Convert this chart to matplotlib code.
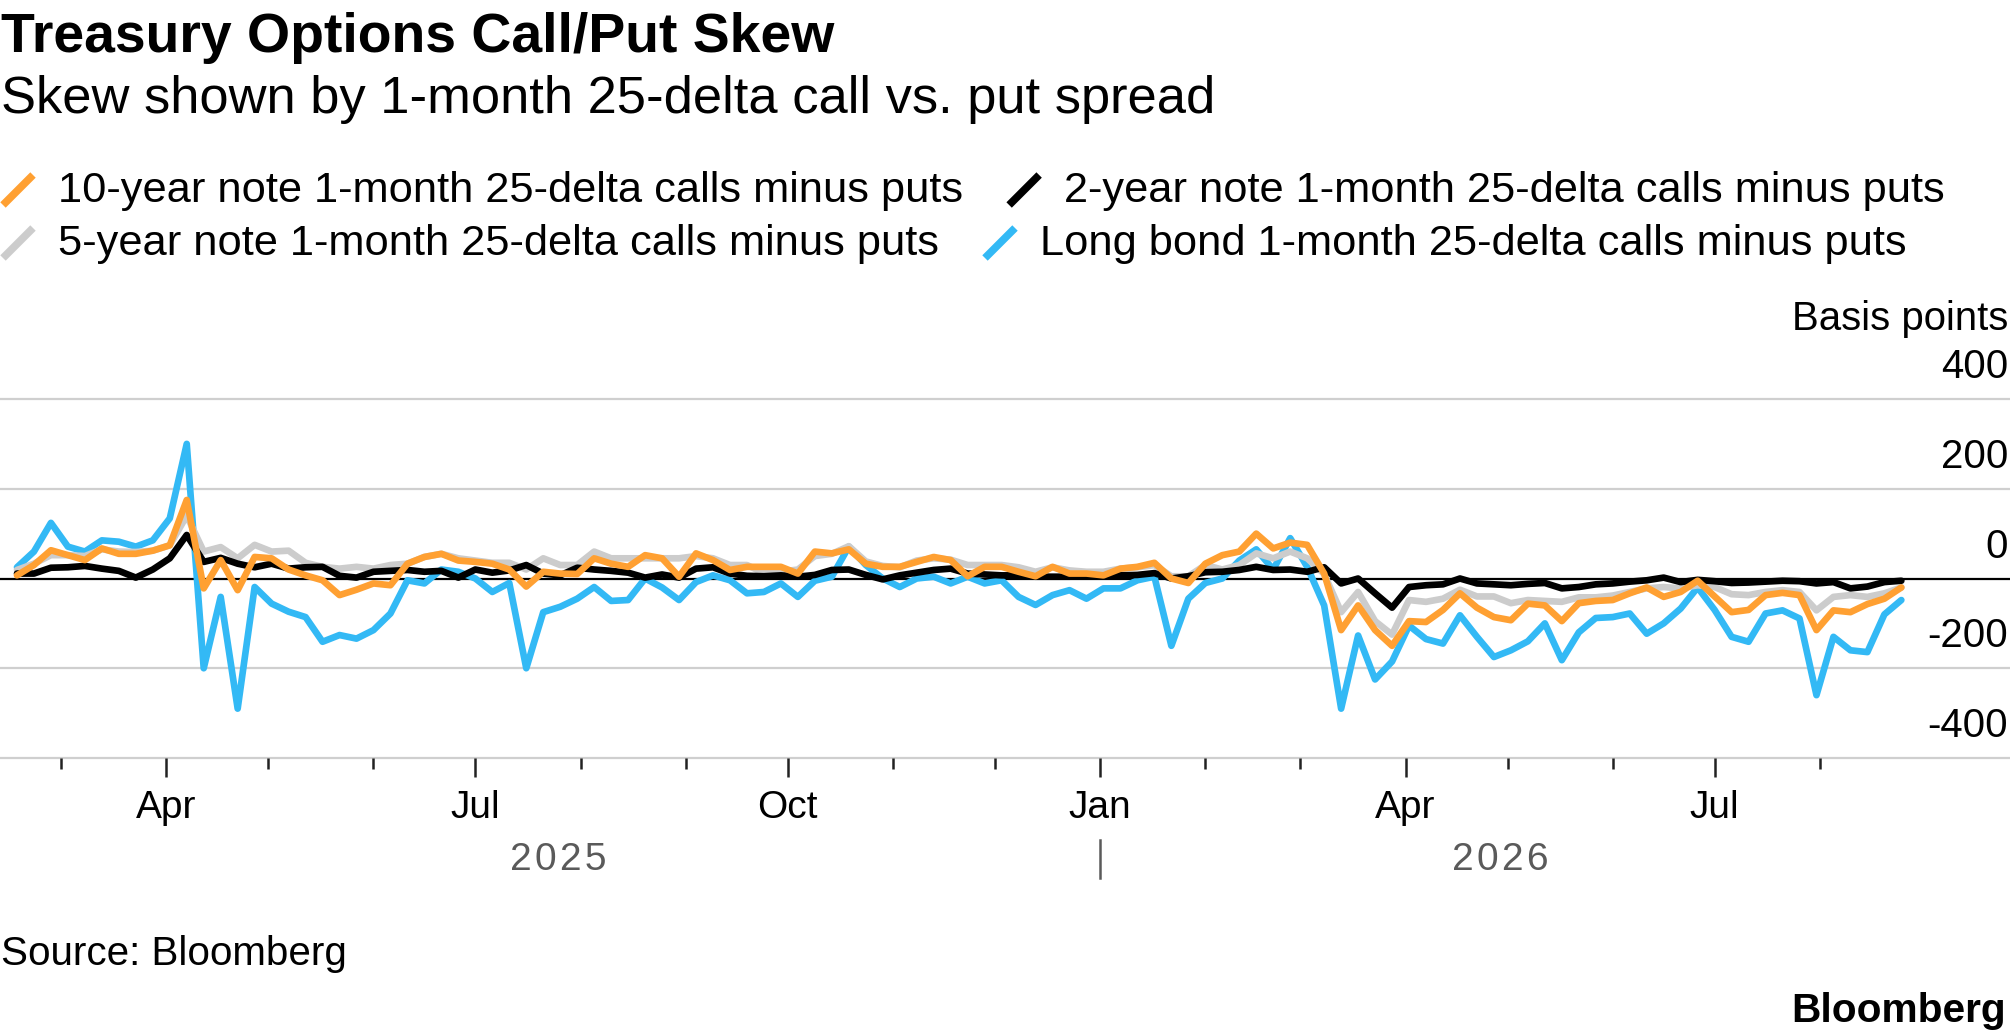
import matplotlib
matplotlib.use('Agg')
import matplotlib.pyplot as plt
import matplotlib.dates as mdates
from matplotlib.lines import Line2D
from matplotlib.transforms import ScaledTranslation, blended_transform_factory
import pandas as pd
import datetime as dt

plt.rcParams['font.family'] = ['Liberation Sans', 'DejaVu Sans']

# ---------------- data ----------------
dates = pd.date_range('2025-02-16', periods=112, freq='5D')

ten_year = [7, 30, 63, 52, 41, 67, 55, 55, 62, 74,
            175, -22, 41, -26, 48, 45, 20, 7, -4, -37,
            -25, -11, -15, 33, 48, 55, 40, 37, 33, 20,
            -18, 15, 11, 10, 45, 33, 26, 52, 45, 4,
            56, 41, 19, 26, 26, 26, 11, 60, 56, 65,
            33, 26, 26, 37, 48, 41, 5, 26, 26, 15,
            5, 26, 11, 11, 7, 22, 26, 35, 0, -10,
            33, 52, 60, 100, 67, 80, 75, 11, -115, -60,
            -115, -150, -95, -97, -70, -33, -65, -86, -93, -56,
            -60, -95, -55, -50, -48, -33, -20, -41, -30, -5,
            -40, -75, -70, -37, -32, -37, -115, -71, -75, -57,
            -45, -20]

two_year = [11, 11, 24, 25, 28, 22, 17, 2, 20, 45,
            97, 37, 46, 33, 25, 33, 22, 25, 26, 6,
            2, 15, 17, 19, 15, 17, 2, 20, 13, 18,
            30, 11, 7, 24, 20, 17, 13, 2, 9, 2,
            22, 25, 11, 6, 5, 7, 4, 8, 19, 20,
            8, -2, 7, 13, 19, 22, 11, 9, 7, 7,
            4, 4, 4, 6, 7, 7, 8, 12, 0, 5,
            14, 15, 19, 26, 19, 20, 15, 25, -11, 0,
            -33, -65, -19, -15, -13, 0, -11, -13, -15, -12,
            -10, -22, -19, -13, -11, -7, -4, 2, -8, -3,
            -6, -10, -9, -7, -5, -6, -11, -8, -22, -18,
            -8, -5]

five_year = [19, 33, 52, 52, 50, 65, 60, 59, 62, 74,
             140, 60, 70, 45, 75, 60, 62, 35, 26, 22,
             26, 22, 30, 33, 48, 55, 45, 40, 35, 35,
             20, 45, 30, 30, 60, 45, 45, 45, 45, 45,
             50, 45, 30, 30, 12, 15, 20, 50, 55, 72,
             38, 28, 25, 40, 45, 42, 30, 30, 30, 25,
             15, 25, 18, 15, 15, 22, 25, 30, 5, 5,
             30, 20, 30, 56, 45, 60, 45, 10, -75, -30,
             -95, -125, -48, -52, -45, -25, -40, -40, -55, -48,
             -50, -52, -42, -42, -38, -30, -22, -19, -22, -15,
             -19, -35, -37, -30, -26, -30, -71, -41, -37, -41,
             -33, -20]

long_bond = [25, 60, 124, 71, 60, 85, 82, 71, 85, 134,
             300, -200, -41, -290, -19, -56, -74, -86, -141, -126,
             -134, -115, -78, -4, -11, 20, 15, 0, -30, -10,
             -200, -75, -63, -45, -19, -50, -48, 0, -20, -48,
             -8, 7, -4, -33, -30, -11, -41, -5, 4, 71,
             30, 0, -19, 0, 4, -11, 4, -11, -4, -41,
             -59, -37, -26, -45, -22, -22, -4, 4, -150, -45,
             -10, 0, 40, 65, 20, 90, 26, -60, -290, -127,
             -225, -185, -105, -135, -145, -82, -130, -175, -160, -140,
             -100, -182, -120, -88, -86, -78, -123, -100, -67, -20,
             -70, -130, -141, -78, -71, -89, -260, -130, -160, -164,
             -80, -48]

series_names = ['10-year note 1-month 25-delta calls minus puts',
                '2-year note 1-month 25-delta calls minus puts',
                '5-year note 1-month 25-delta calls minus puts',
                'Long bond 1-month 25-delta calls minus puts']
series_values = [ten_year, two_year, five_year, long_bond]
series_colors = ['#FFA032', '#000000', '#CCCCCC', '#33B9F5']
draw_order = [3, 2, 1, 0]           # long bond at the bottom, 10-year on top

y_ticks = [400, 200, 0, -200, -400]
y_labels = ['400', '200', '0', '-200', '-400']
month_ticks = pd.date_range('2025-03-01', '2026-08-01', freq='MS')
year_labels = ['2025', '2026']
year_break = dt.datetime(2026, 1, 1)

title = 'Treasury Options Call/Put Skew'
subtitle = 'Skew shown by 1-month 25-delta call vs. put spread'
unit_label = 'Basis points'
source = 'Source: Bloomberg'
logo = 'Bloomberg'

# ---------------- figure ----------------
W, H = 2010, 1035
fig = plt.figure(figsize=(W / 100, H / 100), dpi=100)
fig.patch.set_facecolor('white')


def fy(y):
    return 1 - y / H


ax = fig.add_axes([0, fy(758), 1, (758 - 399) / H])
ax.patch.set_alpha(0)
for s in ax.spines.values():
    s.set_visible(False)

ax.set_xlim(dt.datetime(2025, 2, 11), dt.datetime(2026, 9, 26))
ax.set_ylim(-400, 400)

# gridlines
for v in y_ticks:
    if v == 0:
        continue
    ax.axhline(v, color='#CFCFCF', lw=1.6, zorder=1, clip_on=False)
ax.axhline(0, color='black', lw=1.6, zorder=1.5)

x = dates.to_pydatetime()
for k, idx in enumerate(draw_order):
    ax.plot(x, series_values[idx], color=series_colors[idx], lw=4.8,
            solid_joinstyle='round', solid_capstyle='round', zorder=2 + k)

# y labels (right side, above gridlines)
ylab_tr = blended_transform_factory(ax.transAxes, ax.transData) + \
    ScaledTranslation(-2 / 100, 21 / 100, fig.dpi_scale_trans)
for v, lab in zip(y_ticks, y_labels):
    ax.text(1.0, v, lab, transform=ylab_tr, ha='right', va='baseline',
            fontsize=29, color='black')
ax.set_yticks([])

# x ticks
majors = [d for d in month_ticks if d.month in (1, 4, 7, 10)]
minors = [d for d in month_ticks if d.month not in (1, 4, 7, 10)]
ax.set_xticks([d.to_pydatetime() for d in majors])
ax.set_xticklabels([d.strftime('%b') for d in majors])
ax.set_xticks([d.to_pydatetime() for d in minors], minor=True)
ax.tick_params(axis='x', which='major', length=13.7, width=1.8, color='#222222',
               pad=9, labelsize=28, labelcolor='black')
ax.tick_params(axis='x', which='minor', length=8, width=1.8, color='#222222')

# year labels and separator
blend = blended_transform_factory(ax.transData, fig.transFigure)
x0 = mdates.date2num(x[0])
x1 = mdates.date2num(year_break)
x2 = mdates.date2num(x[-1])
for lab, xc in zip(year_labels, [(x0 + x1) / 2, (x1 + x2) / 2]):
    ax.text(xc, fy(870), '\u200a'.join(lab), transform=blend, ha='center',
            va='baseline', fontsize=28, color='#5A5A5A')
ax.plot([x1, x1], [fy(840), fy(878)], transform=blend, color='#5A5A5A',
        lw=1.8, clip_on=False)

renderer = fig.canvas.get_renderer()


def fit(t, target):
    w = t.get_window_extent(renderer).width
    t.set_fontsize(t.get_fontsize() * target / w)


t = fig.text(1 / W, fy(52), title, fontsize=39, fontweight='bold', va='baseline')
fit(t, 833)
t = fig.text(1 / W, fy(113), subtitle, fontsize=32, va='baseline')
fit(t, 1215)
t = fig.text(2008 / W, fy(330), unit_label, fontsize=29, ha='right', va='baseline')
fit(t, 217)
t = fig.text(1 / W, fy(965), source, fontsize=29, va='baseline')
fit(t, 346)
t = fig.text(2006 / W, fy(1022), logo, fontsize=29, fontweight='bold',
             ha='right', va='baseline')
fit(t, 214)

# legend (flowing layout, slanted line markers)
probe = fig.text(0, 0, series_names[0], fontsize=30)
fit(probe, 903)
leg_size = probe.get_fontsize()
probe.remove()

rows = [[0, 1], [2, 3]]
baselines = [202, 255]
for row, base in zip(rows, baselines):
    xc = 18
    for idx in row:
        fig.add_artist(Line2D([(xc - 15) / W, (xc + 15) / W],
                              [fy(base + 3), fy(base - 27)],
                              transform=fig.transFigure,
                              color=series_colors[idx], lw=5.5,
                              solid_capstyle='butt'))
        tt = fig.text((xc + 40) / W, fy(base), series_names[idx],
                      fontsize=leg_size, va='baseline')
        bb = tt.get_window_extent(renderer)
        xc = bb.x1 + 61

fig.savefig('out.png', dpi=100, facecolor='white')
